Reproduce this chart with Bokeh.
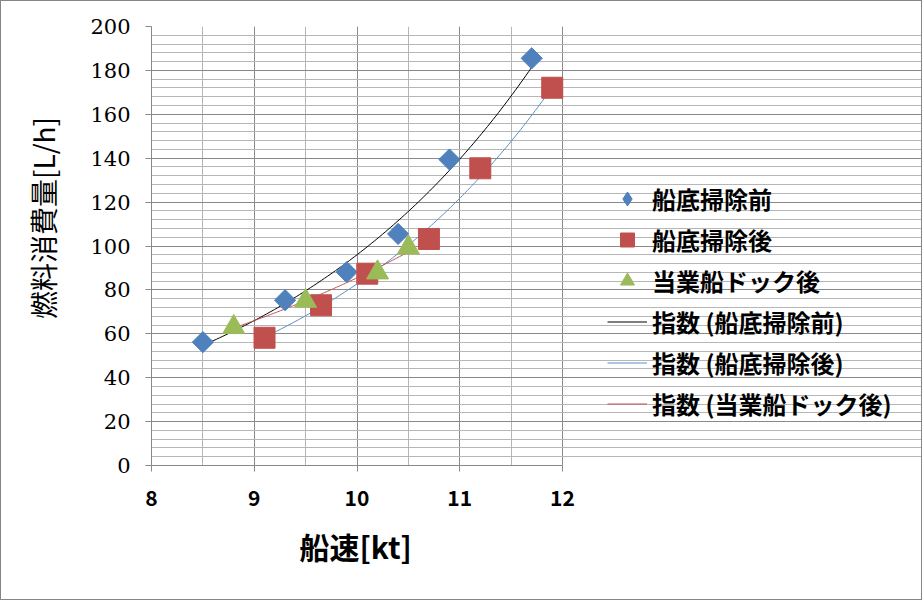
import numpy as np
from bokeh.plotting import figure
from bokeh.models import Range1d, FixedTicker, Legend, LegendItem, Title
from bokeh.embed import file_html
from bokeh.resources import INLINE

# ---- data ----
x_before = [8.5, 9.3, 9.9, 10.4, 10.9, 11.7]
y_before = [56.2, 75.3, 88.1, 105.5, 139.4, 185.5]
x_after = [9.1, 9.65, 10.1, 10.7, 11.2, 11.9]
y_after = [58.2, 73.0, 87.4, 103.2, 135.4, 172.1]
x_dock = [8.8, 9.5, 10.2, 10.5]
y_dock = [63.0, 75.0, 87.9, 99.3]

name_before = "船底掃除前"
name_after = "船底掃除後"
name_dock = "当業船ドック後"
trend_before = "指数 (船底掃除前)"
trend_after = "指数 (船底掃除後)"
trend_dock = "指数 (当業船ドック後)"

x_ticks = [8, 9, 10, 11, 12]
x_minor = [8.5, 9.5, 10.5, 11.5]
y_ticks = [0, 20, 40, 60, 80, 100, 120, 140, 160, 180, 200]
y_minor = [v for v in range(0, 201, 4) if v % 20 != 0]
x_min, x_max = 8, 12
y_min, y_max = 0, 200


def exp_trend(xs, ys):
    b, ln_a = np.polyfit(np.array(xs), np.log(np.array(ys)), 1)
    xx = np.linspace(min(xs), max(xs), 120)
    return xx, np.exp(ln_a) * np.exp(b * xx)


BLUE = "#4F81BD"
RED = "#C0504D"
GREEN = "#9BBB59"
GRID_MAJ = "#898989"
GRID_MIN = "#b6b6b6"

# plotting frame: x 8..12 spans 411 px; the frame is extended to the right
# (with grid/axis bounded to 8..12) so the legend can sit beside the data area
FRAME_LEFT = 150
PX_PER_X = 411 / (x_max - x_min)
x_end = x_min + (922 - FRAME_LEFT) / PX_PER_X

p = figure(width=922, height=600, output_backend="svg", toolbar_location=None,
           x_range=Range1d(x_min, x_end), y_range=Range1d(y_min, y_max),
           min_border_left=FRAME_LEFT, min_border_right=0,
           min_border_top=25, min_border_bottom=136)
p.styles = {"border": "1px solid #868686"}
p.outline_line_color = None
p.background_fill_color = "white"
p.border_fill_color = "white"

p.xaxis.ticker = FixedTicker(ticks=x_ticks, minor_ticks=x_minor)
p.yaxis.ticker = FixedTicker(ticks=y_ticks, minor_ticks=y_minor)
p.xaxis.bounds = (x_min, x_max)

p.xgrid.grid_line_color = GRID_MAJ
p.xgrid.minor_grid_line_color = GRID_MIN
p.ygrid.grid_line_color = GRID_MAJ
p.ygrid.minor_grid_line_color = GRID_MIN
p.ygrid.bounds = (x_min, x_max)

for ax in (p.xaxis, p.yaxis):
    ax.axis_line_color = GRID_MAJ
    ax.major_tick_line_color = GRID_MAJ
    ax.major_tick_out = 6
    ax.major_tick_in = 0
    ax.minor_tick_out = 0
    ax.minor_tick_in = 0
    ax.major_label_text_color = "black"
    ax.axis_label_text_color = "black"
    ax.axis_label_text_font_style = "normal"

p.xaxis.major_label_text_font = "Noto Sans CJK JP"
p.xaxis.major_label_text_font_style = "bold"
p.xaxis.major_label_text_font_size = "21px"
p.xaxis.major_label_standoff = 18

p.add_layout(Title(text="船速[kt]", align="left", offset=148,
                   text_font="Noto Sans CJK JP", text_font_style="bold",
                   text_font_size="30px", text_color="black", standoff=27,
                   text_line_height=1.6),
             "below")

p.yaxis.major_label_text_font = "DejaVu Serif"
p.yaxis.major_label_text_font_style = "normal"
p.yaxis.major_label_text_font_size = "21px"
p.yaxis.major_label_standoff = 15
p.yaxis.axis_label = "\u3000\u3000燃料消費量[L/h]"
p.yaxis.axis_label_text_font = "Noto Sans CJK JP"
p.yaxis.axis_label_text_font_size = "28px"
p.yaxis.axis_label_standoff = 24

# trendlines
tx, ty = exp_trend(x_before, y_before)
l1 = p.line(tx, ty, line_color="black", line_width=1)
tx, ty = exp_trend(x_after, y_after)
l2 = p.line(tx, ty, line_color="#5a8fc8", line_width=1)
tx, ty = exp_trend(x_dock, y_dock)
l3 = p.line(tx, ty, line_color=RED, line_width=1)

# markers
s1 = p.scatter(x_before, y_before, marker="square", angle=np.pi / 4, size=15,
               fill_color=BLUE, line_color=BLUE)
s2 = p.scatter(x_after, y_after, marker="square", size=21,
               fill_color=RED, line_color=RED)
s3 = p.scatter(x_dock, y_dock, marker="triangle", size=22,
               fill_color=GREEN, line_color=GREEN)
# legend key for the diamond series (same style, drawn as a diamond; no points)
k1 = p.scatter([float("nan")], [float("nan")], marker="diamond", size=16,
               fill_color=BLUE, line_color=BLUE)

legend = Legend(items=[
    LegendItem(label=name_before, renderers=[k1]),
    LegendItem(label=name_after, renderers=[s2]),
    LegendItem(label=name_dock, renderers=[s3]),
    LegendItem(label=trend_before, renderers=[l1]),
    LegendItem(label=trend_after, renderers=[l2]),
    LegendItem(label=trend_dock, renderers=[l3]),
], location=(456, 41))
legend.border_line_color = None
legend.background_fill_alpha = 0
legend.padding = 0
legend.margin = 0
legend.spacing = 0
legend.glyph_width = 40
legend.glyph_height = 35
legend.label_height = 41
legend.label_standoff = 5
legend.label_text_font = "Noto Sans CJK JP"
legend.label_text_font_style = "bold"
legend.label_text_font_size = "24px"
legend.label_text_color = "black"
p.add_layout(legend)

open("out.html", "w").write(file_html(p, INLINE))
